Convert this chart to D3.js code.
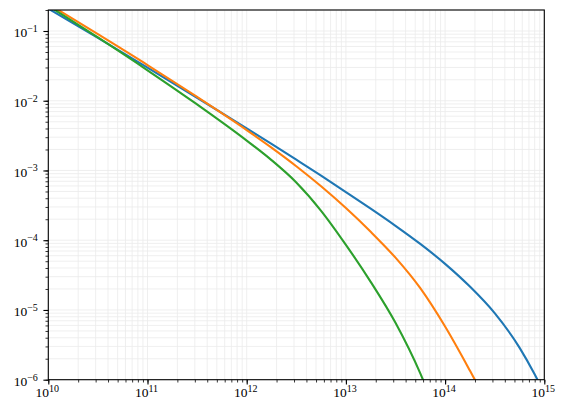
<!DOCTYPE html>
<html>
<head>
<meta charset="utf-8">
<script src="https://cdn.jsdelivr.net/npm/d3@7"></script>
<style>
  body { margin: 0; background: #fff; }
  svg { display: block; }
  text { font-family: "Liberation Serif", "DejaVu Serif", serif; fill: #000; }
</style>
</head>
<body>
<div id="chart"></div>
<script>

// curves (mass, value)
var blueMass = [1e10, 3.162e10, 1e11, 3.162e11, 1e12, 1.778e12, 3.162e12, 5.623e12, 1e13, 1.778e13, 3.162e13, 5.623e13, 1e14, 1.778e14, 3.162e14, 5.623e14, 7.943e14, 1e15];
var blueValue = [0.2094, 0.07943, 0.02985, 0.01104, 0.004009, 0.002399, 0.001426, 8.43e-4, 4.909e-4, 2.838e-4, 1.611e-4, 8.85e-5, 4.581e-5, 2.163e-5, 8.99e-6, 2.884e-6, 1.216e-6, 6.38e-7];

var orangeMass = [1e10, 3.162e10, 1e11, 3.162e11, 1e12, 1.778e12, 3.162e12, 5.623e12, 1e13, 1.778e13, 3.162e13, 5.623e13, 1e14, 1.778e14, 2.239e14];
var orangeValue = [0.2449, 0.08995, 0.03251, 0.01132, 0.003793, 0.002128, 0.001151, 5.93e-4, 2.891e-4, 1.321e-4, 5.62e-5, 2.051e-5, 5.78e-6, 1.352e-6, 7.38e-7];

var greenMass = [1e10, 3.162e10, 1e11, 3.162e11, 1e12, 1.778e12, 3.162e12, 5.623e12, 1e13, 1.778e13, 3.162e13, 5.623e13, 6.31e13];
var greenValue = [0.2301, 0.08072, 0.02735, 0.00885, 0.002685, 0.001409, 6.73e-4, 2.642e-4, 8.59e-5, 2.529e-5, 6.53e-6, 1.23e-6, 8.36e-7];

var xTicks = [1e10, 1e11, 1e12, 1e13, 1e14, 1e15];
var xTickLabels = ['10', '11', '12', '13', '14', '15'];
var yTicks = [1e-1, 1e-2, 1e-3, 1e-4, 1e-5, 1e-6];
var yTickLabels = ['\u22121', '\u22122', '\u22123', '\u22124', '\u22125', '\u22126'];

var series = [
	{ mass: blueMass, value: blueValue, color: '#1f77b4' },
	{ mass: orangeMass, value: orangeValue, color: '#ff7f0e' },
	{ mass: greenMass, value: greenValue, color: '#2ca02c' }
];

var W = 566, H = 412;
var margin = { left: 48.3, top: 10, right: 21.7, bottom: 32.3 };
var w = W - margin.left - margin.right;
var h = H - margin.top - margin.bottom;

var svg = d3.select('#chart').append('svg').attr('width', W).attr('height', H);
var g = svg.append('g').attr('transform', 'translate(' + margin.left + ',' + margin.top + ')');

var x = d3.scaleLog().domain([1e10, 1e15]).range([0, w]);
var y = d3.scaleLog().domain([1e-6, 0.2]).range([h, 0]);

// minor positions (every 1..9 per decade) inside the domain
function minors(scale, lo, hi) {
	var out = [];
	var d = scale.domain();
	for (var e = lo; e <= hi; e++)
		for (var k = 1; k < 10; k++) {
			var v = k * Math.pow(10, e);
			if (v >= d[0] * 0.9999 && v <= d[1] * 1.0001) out.push(v);
		}
	return out;
}
var xAll = minors(x, 10, 15);
var yAll = minors(y, -6, -1);

// grid
var grid = g.append('g').attr('stroke', '#ebebeb').attr('stroke-width', 0.8);
xAll.forEach(function(v) {
	grid.append('line').attr('x1', x(v)).attr('x2', x(v)).attr('y1', 0).attr('y2', h);
});
yAll.forEach(function(v) {
	grid.append('line').attr('y1', y(v)).attr('y2', y(v)).attr('x1', 0).attr('x2', w);
});

// curves
g.append('clipPath').attr('id', 'clip').append('rect').attr('width', w).attr('height', h);

var line = d3.line()
	.x(function(d) { return x(d[0]); })
	.y(function(d) { return y(d[1]); })
	.curve(d3.curveMonotoneX);

var plot = g.append('g').attr('clip-path', 'url(#clip)');
series.forEach(function(s) {
	plot.append('path')
		.datum(d3.zip(s.mass, s.value))
		.attr('fill', 'none')
		.attr('stroke', s.color)
		.attr('stroke-width', 2.1)
		.attr('stroke-linejoin', 'round')
		.attr('d', line);
});

// axes
var xAxis = d3.axisBottom(x).tickValues(xAll).tickSize(2.8).tickFormat('');
var xMajor = d3.axisBottom(x).tickValues(xTicks).tickSize(4.9).tickFormat('');
var yAxis = d3.axisLeft(y).tickValues(yAll).tickSize(2.8).tickFormat('');
var yMajor = d3.axisLeft(y).tickValues(yTicks).tickSize(4.9).tickFormat('');

function styleAxis(sel, width) {
	sel.select('.domain').remove();
	sel.selectAll('.tick line').attr('stroke', '#000').attr('stroke-width', width);
}
g.append('g').attr('transform', 'translate(0,' + h + ')').call(xAxis).call(styleAxis, 0.8);
g.append('g').attr('transform', 'translate(0,' + h + ')').call(xMajor).call(styleAxis, 1.1);
g.append('g').call(yAxis).call(styleAxis, 0.8);
g.append('g').call(yMajor).call(styleAxis, 1.1);

g.append('rect').attr('width', w).attr('height', h)
	.attr('fill', 'none').attr('stroke', '#000').attr('stroke-width', 1.1);

// tick labels with superscripts
xTicks.forEach(function(v, i) {
	var t = g.append('text').attr('x', x(v) - 1).attr('y', h + 17.5)
		.attr('text-anchor', 'middle').attr('font-size', 13.5);
	t.append('tspan').text('10');
	t.append('tspan').attr('dy', -5.5).attr('font-size', 10).text(xTickLabels[i]);
});
yTicks.forEach(function(v, i) {
	var t = g.append('text').attr('x', -10.5).attr('y', y(v) + 6.5)
		.attr('text-anchor', 'end').attr('font-size', 13.5);
	t.append('tspan').text('10');
	t.append('tspan').attr('dy', -5.5).attr('font-size', 10).text(yTickLabels[i]);
});

</script>
</body>
</html>
